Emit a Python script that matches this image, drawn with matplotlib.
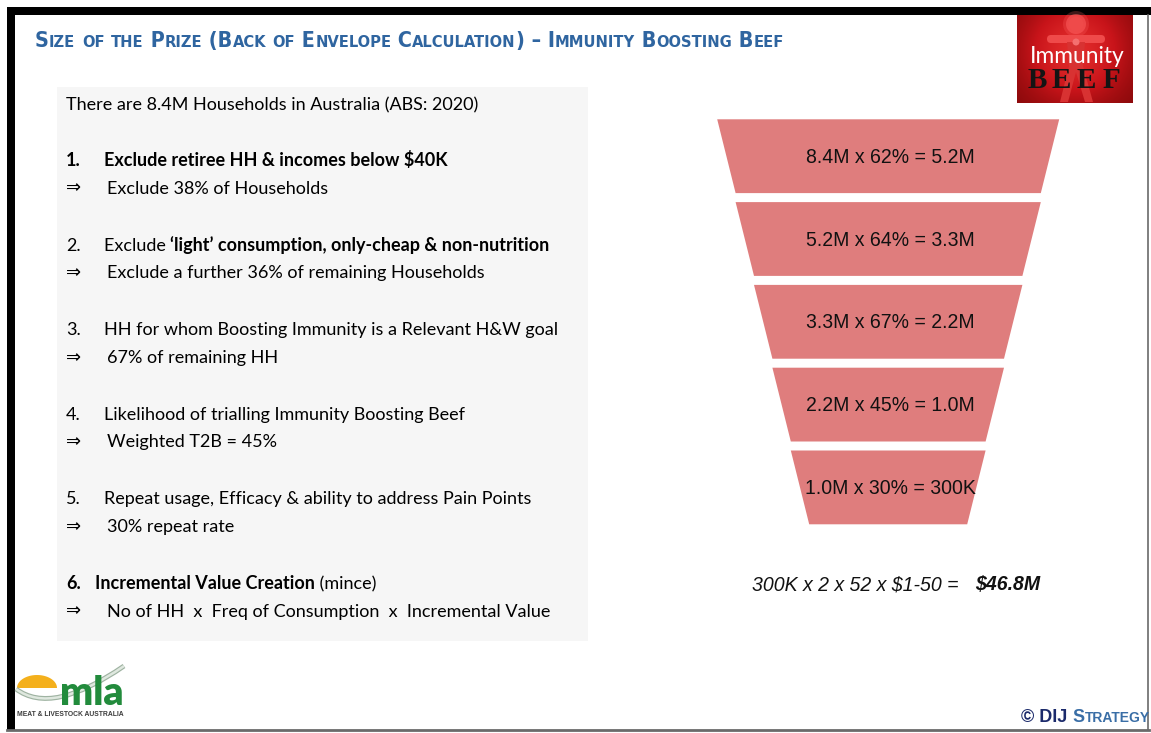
import numpy as np
import matplotlib
matplotlib.use("Agg")
import matplotlib.pyplot as plt
from matplotlib.patches import Polygon, Rectangle, Circle, FancyBboxPatch, PathPatch
from matplotlib.path import Path
from matplotlib.colors import LinearSegmentedColormap

W, H = 1151, 733

# funnel stages, households in millions
start_hh = [8.4, 5.2, 3.3, 2.2, 1.0]
keep_pct = [62, 64, 67, 45, 30]
end_hh = [5.2, 3.3, 2.2, 1.0, 0.3]

# value creation line
serves_per_week = 2
weeks = 52
price_txt = "$1-50"
value_m = 46.8

intro = "There are 8.4M Households in Australia (ABS: 2020)"
step_nums = ["1.", "2.", "3.", "4.", "5.", "6."]
step_heads = [
    [("Exclude retiree HH & incomes below $40K", "bold")],
    [("Exclude ", "normal"), ("\u2018light\u2019 consumption, only-cheap & non-nutrition", "bold")],
    [("HH for whom Boosting Immunity is a Relevant H&W goal", "normal")],
    [("Likelihood of trialling Immunity Boosting Beef", "normal")],
    [("Repeat usage, Efficacy & ability to address Pain Points", "normal")],
    [("Incremental Value Creation", "bold"), (" (mince)", "normal")],
]
step_notes = [
    "Exclude 38% of Households",
    "Exclude a further 36% of remaining Households",
    "67% of remaining HH",
    "Weighted T2B = 45%",
    "30% repeat rate",
    "No of HH  x  Freq of Consumption  x  Incremental Value",
]
num_bold = [True, False, False, False, False, True]

title = "Size of the Prize (Back of Envelope Calculation) \u2013 Immunity Boosting Beef"

BODY = ["Lato", "DejaVu Sans"]
ARIAL = ["Liberation Sans", "DejaVu Sans"]
BLUE = "#2f65a0"
FUNNEL_RED = "#df7d7d"

fig = plt.figure(figsize=(W / 100, H / 100), dpi=100)
ax = fig.add_axes([0, 0, 1, 1])
ax.set_xlim(0, W)
ax.set_ylim(H, 0)
ax.axis("off")
rend = fig.canvas.get_renderer()


def text_w(s, **kw):
    # advance width, trailing spaces included
    a = ax.text(0, 0, "|" + s + "|", **kw)
    b = ax.text(0, 0, "||", **kw)
    w = a.get_window_extent(rend).width - b.get_window_extent(rend).width
    a.remove()
    b.remove()
    return w


def runs_w(runs, **kw):
    total = 0
    for s, extra in runs:
        o = dict(kw)
        o.update(extra)
        total += text_w(s, **o)
    return total


def put_runs(x, y, runs, **kw):
    for s, extra in runs:
        o = dict(kw)
        o.update(extra)
        ax.text(x, y, s, va="baseline", ha="left", **o)
        x += text_w(s, **o)
    return x


def small_caps(s, big, small, **extra):
    out = []
    for ch in s:
        size = small if ch.islower() else big
        c = ch.upper()
        if out and out[-1][1]["fontsize"] == size:
            out[-1] = (out[-1][0] + c, out[-1][1])
        else:
            d = {"fontsize": size}
            d.update(extra)
            out.append((c, d))
    return out


# frame
ax.add_patch(Rectangle((7, 7), W - 7, 8, color="black", lw=0))
ax.add_patch(Rectangle((7, 7), 8, 723, color="black", lw=0))
ax.plot([7, 1149], [729.5, 729.5], color="#6a6a6a", lw=2)
ax.plot([1148.5, 1148.5], [15, 730], color="#6a6a6a", lw=1.2)

# title in small caps, scaled to its width
tkw = dict(family=["DejaVu Sans"], fontstretch="condensed", fontweight="bold", color=BLUE)
w0 = runs_w(small_caps(title, 15, 11.5), **tkw)
k = 754 / w0
put_runs(35, 47, small_caps(title, 15 * k, 11.5 * k), **tkw)

# grey text panel
ax.add_patch(Rectangle((57, 87), 531, 554, color="#f6f6f6", lw=0))

fs = 13 * 411 / text_w(intro, family=BODY, fontsize=13)
bkw = dict(family=BODY, fontsize=fs, color="black")
ax.text(66, 110, intro, va="baseline", **bkw)

base = 166
step = 84.6
for i in range(len(step_nums)):
    y = base + i * step
    put_runs(66, y, [(step_nums[i], {"fontweight": "bold" if num_bold[i] else "normal"})], **bkw)
    x0 = 95 if i == 5 else 104
    put_runs(x0, y, [(s, {"fontweight": wgt}) for s, wgt in step_heads[i]], **bkw)
    ax.text(66, y + 27.5, "\u21d2", va="baseline", **bkw)
    ax.text(107, y + 27.5, step_notes[i], va="baseline", **bkw)

# funnel
top0, seg_h, gap = 119.3, 73.8, 9.0
cx, half0, taper = 888.2, 171.0, 18.4


def fmt(v):
    return f"{v * 1000:.0f}K" if v < 1 else f"{v:.1f}M"


labels = [f"{fmt(a)} x {p}% = {fmt(b)}" for a, p, b in zip(start_hh, keep_pct, end_hh)]
ffs = 13 * 168 / text_w(labels[0], family=ARIAL, fontsize=13)
for i, lab in enumerate(labels):
    yt = top0 + i * (seg_h + gap)
    yb = yt + seg_h
    ht = half0 - i * taper
    hb = ht - taper
    ax.add_patch(Polygon([(cx - ht, yt), (cx + ht, yt), (cx + hb, yb), (cx - hb, yb)],
                         closed=True, facecolor=FUNNEL_RED, edgecolor="none"))
    ax.text(cx + 2, (yt + yb) / 2 + 1, lab, ha="center", va="center",
            family=ARIAL, fontsize=ffs, color="#111111")

# value creation sum
calc = f"{fmt(end_hh[-1])} x {serves_per_week} x {weeks} x {price_txt} =   "
ckw = dict(family=ARIAL, fontstyle="italic", color="#111111")
cfs = 13 * 206 / text_w(calc.rstrip(), fontsize=13, **ckw)
put_runs(752, 590, [(calc, {"fontsize": cfs}),
                    (f"${value_m:.1f}M", {"fontsize": cfs, "fontweight": "bold"})], **ckw)

# Immunity Beef badge
yy, xx = np.mgrid[0:1:88j, 0:1:116j]
glow = np.exp(-(((xx - 0.5) / 0.45) ** 2 + ((yy - 0.4) / 0.6) ** 2))
cmap = LinearSegmentedColormap.from_list("badge", ["#8e0a0c", "#c8141a", "#e02a2a"])
ax.imshow(glow, extent=(1017, 1133, 103, 15), cmap=cmap, aspect="auto", zorder=2)
fig_c = "#ef4a4a"
for rr, al in [(13, 0.25), (10, 0.5)]:
    ax.add_patch(Circle((1076, 24), rr, color="#ff6060", alpha=al, lw=0, zorder=3))
ax.add_patch(Circle((1076, 24), 7.5, color=fig_c, lw=0, zorder=3))
ax.add_patch(FancyBboxPatch((1047, 35), 58, 8, boxstyle="round,pad=0,rounding_size=4",
                            color=fig_c, lw=0, zorder=3))
ax.add_patch(Polygon([(1067, 42), (1085, 42), (1083, 66), (1093, 102), (1085, 102),
                      (1076, 72), (1068, 102), (1060, 102), (1069, 66)],
                     closed=True, color="#d83232", lw=0, zorder=3))
ax.add_patch(Circle((1076, 42), 3.5, color="#f47070", lw=0, zorder=3))
ifs = 13 * 94 / text_w("Immunity", family=BODY, fontsize=13)
ax.text(1030, 63, "Immunity", family=BODY, fontsize=ifs, color="white", va="baseline", zorder=4)
for ch, xc in zip("BEEF", [1037, 1061, 1086, 1111]):
    ax.text(xc, 88, ch, family=["Liberation Serif", "DejaVu Serif"], fontsize=21,
            fontweight="bold", color="#141414", ha="center", va="baseline", zorder=4)

# MLA logo
th = np.linspace(0, np.pi, 40)
ax.add_patch(Polygon(np.c_[37 + 20 * np.cos(th), 688 - 13 * np.sin(th)], closed=True,
                     color="#f4b01c", lw=0))
sw = Path([(16, 689), (52, 716), (124, 666)], [Path.MOVETO, Path.CURVE3, Path.CURVE3])
ax.add_patch(PathPatch(sw, fill=False, edgecolor="#9fb3a2", lw=3.5))
ax.add_patch(PathPatch(sw, fill=False, edgecolor="#dfe8df", lw=1.8))
mfs = 20 * 64 / text_w("mla", family=BODY, fontsize=20, fontweight="heavy")
ax.text(60, 705, "mla", family=BODY, fontsize=mfs, fontweight="heavy", color="#228b3c",
        va="baseline")
tag = "MEAT & LIVESTOCK AUSTRALIA"
tfs = 6 * 106 / text_w(tag, family=ARIAL, fontsize=6, fontweight="bold")
ax.text(17, 716, tag, family=ARIAL, fontsize=tfs, fontweight="bold", color="#3c3c3c",
        va="baseline")

# copyright mark
dkw = dict(family=ARIAL, fontweight="bold")
dij = [("\u00a9 DIJ ", {"fontsize": 13, "color": "#1b2a6b"})] + \
      small_caps("Strategy", 13, 10, color="#3a6ea6")
put_runs(1150 - runs_w(dij, **dkw), 722, dij, **dkw)

ax.set_xlim(0, W)
ax.set_ylim(H, 0)
fig.savefig("out.png", dpi=100, facecolor="white")
